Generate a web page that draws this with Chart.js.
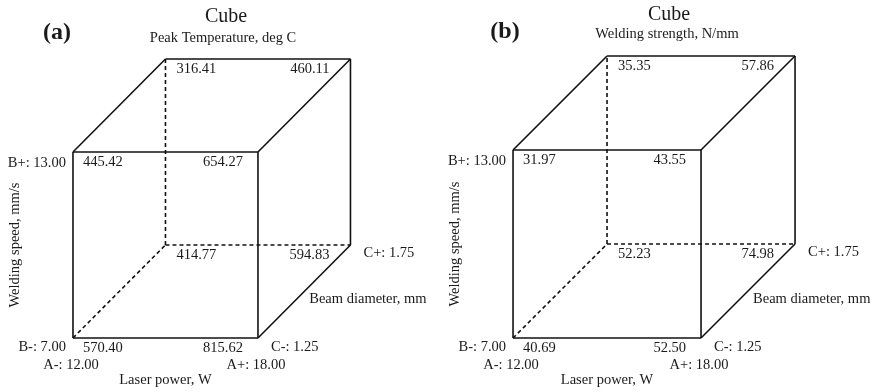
<!DOCTYPE html>
<html>
<head>
<meta charset="utf-8">
<script src="https://cdn.jsdelivr.net/npm/chart.js@4.4.0/dist/chart.umd.min.js"></script>
<style>
body{margin:0;background:#fff}
canvas{display:block;float:left}
</style>
</head>
<body>
<canvas id="cubeA" width="440" height="392"></canvas>
<canvas id="cubeB" width="440" height="392"></canvas>
<script>
// factor levels
var laserPower = [12.00, 18.00];   // A
var weldSpeed = [7.00, 13.00];     // B
var beamDiam = [1.25, 1.75];       // C
var factorNames = ['Laser power, W', 'Welding speed, mm/s', 'Beam diameter, mm'];

// responses, standard order: A changes fastest, then B, then C
var peakTemp = [570.40, 815.62, 445.42, 654.27, 414.77, 594.83, 316.41, 460.11];
var weldStrength = [40.69, 52.50, 31.97, 43.55, 52.23, 74.98, 35.35, 57.86];

var depth = 0.5; // oblique offset of the C axis (in coded units)

function code(v, lv) {
    return (v - (lv[0] + lv[1]) / 2) / ((lv[1] - lv[0]) / 2);
}
function corner(i) {
    var a = code(laserPower[i & 1], laserPower);
    var b = code(weldSpeed[(i >> 1) & 1], weldSpeed);
    var c = code(beamDiam[(i >> 2) & 1], beamDiam);
    return {x: a + depth * (c + 1), y: b + depth * (c + 1)};
}

function edgeSets() {
    var sets = [];
    for (var i = 0; i < 8; i++) {
        for (var j = i + 1; j < 8; j++) {
            var d = i ^ j;
            if (d != 1 && d != 2 && d != 4) continue;
            var hidden = (i == 4 || j == 4); // back-bottom-left corner is hidden
            sets.push({
                data: [corner(i), corner(j)],
                showLine: true,
                pointRadius: 0,
                borderColor: '#111',
                borderWidth: 1.6,
                borderDash: hidden ? [4, 3] : []
            });
        }
    }
    return sets;
}

var serif = '"Liberation Serif", "Times New Roman", serif';
var ink = '#1a1a1a';

var cubeText = {
    id: 'cubeText',
    afterDraw: function(chart, args, opt) {
        var ctx = chart.ctx;
        var xs = chart.scales.x, ys = chart.scales.y;
        function px(i) {
            var p = corner(i);
            return [xs.getPixelForValue(p.x), ys.getPixelForValue(p.y)];
        }
        function txt(s, x, y, align, font) {
            ctx.font = font || ('14.5px ' + serif);
            ctx.textAlign = align;
            ctx.fillText(s, x, y);
        }
        ctx.save();
        ctx.fillStyle = ink;
        ctx.textBaseline = 'middle';

        // headings
        txt('Cube', opt.titleX, opt.titleY, 'center', '20px ' + serif);
        txt(opt.subtitle, opt.subX, opt.subY, 'center', '14.5px ' + serif);
        txt(opt.tag, opt.tagX, opt.tagY, 'center', 'bold 24px ' + serif);

        // corner values
        for (var i = 0; i < 8; i++) {
            var p = px(i);
            var left = (i & 1) == 0, back = (i & 4) != 0;
            var s = opt.values[i].toFixed(2);
            if (left) txt(s, p[0] + (back ? 11 : 10), p[1] + 10, 'left');
            else txt(s, p[0] - (back ? 21 : 15), p[1] + 10, 'right');
        }

        // factor levels
        var c0 = px(0), c1 = px(1), c2 = px(2), c5 = px(5);
        txt('B+: ' + weldSpeed[1].toFixed(2), c2[0] - 7, c2[1] + 11, 'right');
        txt('B-: ' + weldSpeed[0].toFixed(2), c0[0] - 7, c0[1] + 9, 'right');
        txt('A-: ' + laserPower[0].toFixed(2), c0[0] - 2, c0[1] + 27, 'center');
        txt('A+: ' + laserPower[1].toFixed(2), c1[0] - 2, c1[1] + 27, 'center');
        txt('C-: ' + beamDiam[0].toFixed(2), c1[0] + 13, c1[1] + 9, 'left');
        txt('C+: ' + beamDiam[1].toFixed(2), c5[0] + 13, c5[1] + 8, 'left');

        // factor names
        txt(factorNames[0], (c0[0] + c1[0]) / 2, c0[1] + 42, 'center');
        txt(factorNames[2], (c1[0] + c5[0]) / 2 + 5, (c1[1] + c5[1]) / 2 + 8, 'left');
        ctx.translate(c0[0] - 58, (c0[1] + c2[1]) / 2);
        ctx.rotate(-Math.PI / 2);
        txt(factorNames[1], 0, 0, 'center');
        ctx.restore();
    }
};

function makeCube(id, values, panel) {
    var ctx = document.getElementById(id).getContext('2d');
    return new Chart(ctx, {
        type: 'scatter',
        data: {datasets: edgeSets()},
        options: {
            responsive: false,
            animation: false,
            devicePixelRatio: 1,
            layout: {padding: 0},
            scales: {
                x: {display: false, min: panel.xMin, max: panel.xMax},
                y: {display: false, min: panel.yMin, max: panel.yMax}
            },
            plugins: {
                legend: {display: false},
                tooltip: {enabled: false},
                cubeText: Object.assign({values: values}, panel)
            }
        },
        plugins: [cubeText]
    });
}

var cubeA = makeCube('cubeA', peakTemp, {
    tag: '(a)', subtitle: 'Peak Temperature, deg C',
    titleX: 226, titleY: 17, subX: 223, subY: 38, tagX: 57, tagY: 33,
    xMin: -1.789, xMax: 2.968, yMin: -1.581, yMax: 2.634
});
var cubeB = makeCube('cubeB', weldStrength, {
    tag: '(b)', subtitle: 'Welding strength, N/mm',
    titleX: 229, titleY: 15, subX: 227, subY: 34, tagX: 65, tagY: 32,
    xMin: -1.777, xMax: 2.904, yMin: -1.574, yMax: 2.596
});
</script>
</body>
</html>
